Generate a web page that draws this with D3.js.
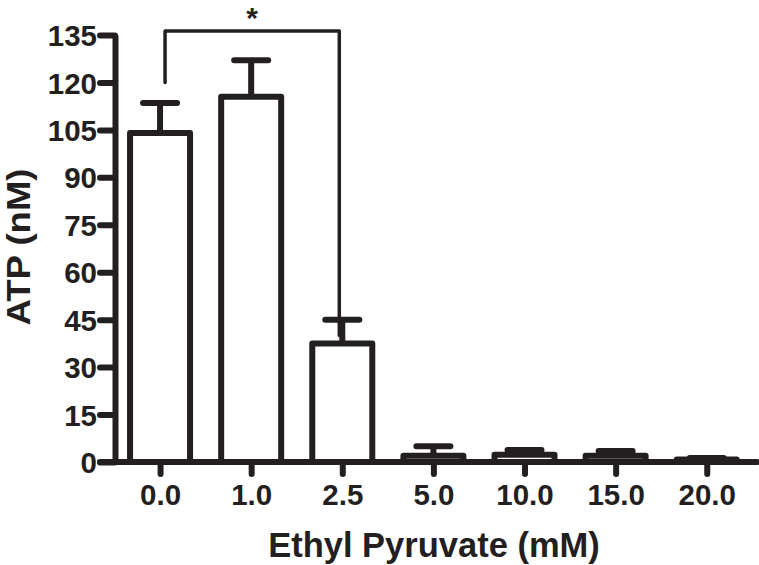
<!DOCTYPE html>
<html>
<head>
<meta charset="utf-8">
<script src="https://cdn.jsdelivr.net/npm/d3@7"></script>
<style>
  body { margin: 0; background: #fff; }
  text { font-family: "Liberation Sans", Arial, sans-serif; font-weight: bold; fill: #231f20; }
</style>
</head>
<body>
<div id="chart"></div>
<script>
const categories = ['0.0', '1.0', '2.5', '5.0', '10.0', '15.0', '20.0']
const atpMean = [104, 115.5, 37.5, 2, 2.3, 2, 0.8]
const atpErr = [9.5, 11.5, 7.5, 3, 1.5, 1.5, 0.5]
const yTicks = [0, 15, 30, 45, 60, 75, 90, 105, 120, 135]
const sigPair = ['0.0', '2.5']
const sigLegs = [120, 40]

const width = 759
const height = 565
const ink = '#231f20'

const svg = d3.select('#chart')
  .append('svg')
  .attr('width', width)
  .attr('height', height)

const x = d3.scalePoint()
  .domain(categories)
  .range([114.5, 752.3])
  .padding(0.5)

const y = d3.scaleLinear()
  .domain([0, 135])
  .range([462, 35])

const barW = 60
const capW = 34

// y axis
const yAxis = svg.append('g')
  .attr('transform', 'translate(115,0)')
  .call(d3.axisLeft(y).tickValues(yTicks).tickSize(15).tickSizeOuter(0).tickPadding(3))
yAxis.select('.domain').attr('stroke', ink).attr('stroke-width', 6)
yAxis.selectAll('.tick line').attr('stroke', ink).attr('stroke-width', 6).attr('stroke-linecap', 'round')
yAxis.selectAll('.tick text')
  .attr('font-size', 29.5)
  .attr('fill', ink)
  .attr('font-family', 'Liberation Sans, Arial, sans-serif')
  .attr('font-weight', 'bold')
  .attr('dy', '0.36em')

// bars
const bars = svg.append('g')
categories.forEach((c, i) => {
  const cx = x(c)
  // error bar
  bars.append('line')
    .attr('x1', cx).attr('x2', cx)
    .attr('y1', y(atpMean[i])).attr('y2', y(atpMean[i] + atpErr[i]))
    .attr('stroke', ink).attr('stroke-width', 6)
  bars.append('line')
    .attr('x1', cx - capW / 2).attr('x2', cx + capW / 2)
    .attr('y1', y(atpMean[i] + atpErr[i])).attr('y2', y(atpMean[i] + atpErr[i]))
    .attr('stroke', ink).attr('stroke-width', 6).attr('stroke-linecap', 'round')
  bars.append('rect')
    .attr('x', cx - barW / 2)
    .attr('y', y(atpMean[i]))
    .attr('width', barW)
    .attr('height', y(0) - y(atpMean[i]))
    .attr('fill', '#fff')
    .attr('stroke', ink)
    .attr('stroke-width', 6)
    .attr('stroke-linejoin', 'round')
})

// x axis
const xAxis = svg.append('g')
  .attr('transform', 'translate(0,462)')
  .call(d3.axisBottom(x).tickSize(12).tickSizeOuter(0).tickPadding(10))
xAxis.select('.domain').attr('d', 'M100,0H757').attr('stroke', ink).attr('stroke-width', 6).attr('stroke-linecap', 'round')
xAxis.selectAll('.tick line').attr('stroke', ink).attr('stroke-width', 6).attr('stroke-linecap', 'round')
xAxis.selectAll('.tick text')
  .attr('font-size', 29.5)
  .attr('fill', ink)
  .attr('font-family', 'Liberation Sans, Arial, sans-serif')
  .attr('font-weight', 'bold')

// significance bracket
const xa = x(sigPair[0]) + 5
const xb = x(sigPair[1]) - 3
svg.append('path')
  .attr('d', `M${xa},${y(sigLegs[0])}V31H${xb}V${y(sigLegs[1])}`)
  .attr('fill', 'none')
  .attr('stroke', ink)
  .attr('stroke-width', 3.5)
  .attr('stroke-linejoin', 'round')
  .attr('stroke-linecap', 'round')
svg.append('text')
  .attr('x', (xa + xb) / 2)
  .attr('y', 28)
  .attr('text-anchor', 'middle')
  .attr('font-size', 30)
  .text('*')

// axis titles
svg.append('text')
  .attr('x', 434)
  .attr('y', 557)
  .attr('text-anchor', 'middle')
  .attr('font-size', 34.5)
  .text('Ethyl Pyruvate (mM)')

svg.append('text')
  .attr('transform', 'translate(30,247) rotate(-90)')
  .attr('text-anchor', 'middle')
  .attr('font-size', 33)
  .attr('textLength', 157)
  .attr('lengthAdjust', 'spacingAndGlyphs')
  .text('ATP (nM)')
</script>
</body>
</html>
